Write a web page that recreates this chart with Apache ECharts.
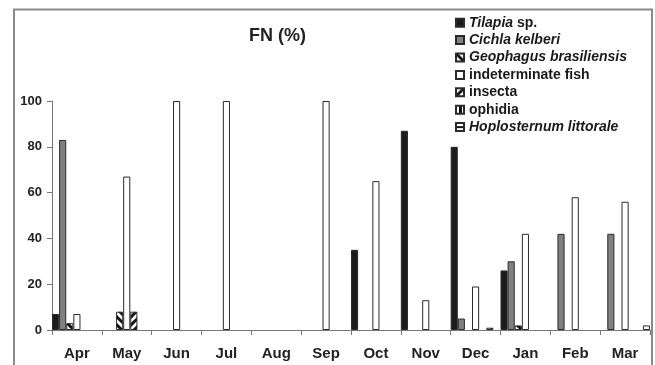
<!DOCTYPE html>
<html>
<head>
<meta charset="utf-8">
<script src="https://cdn.jsdelivr.net/npm/echarts@6/dist/echarts.min.js"></script>
<style>
html,body{margin:0;padding:0;background:#fff;}
#c{width:655px;height:365px;}
</style>
</head>
<body>
<div id="c"></div>
<script>
var months = ['Apr','May','Jun','Jul','Aug','Sep','Oct','Nov','Dec','Jan','Feb','Mar'];
var yTicks = [0,20,40,60,80,100];
var tilapia      = [7, null, null, null, null, null, 35, 87, 80, 26, null, null];
var cichla       = [83, null, null, null, null, null, null, null, 5, 30, 42, 42];
var geophagus    = [3, 8, null, null, null, null, null, null, null, 2, null, null];
var indeterminate= [7, 67, 100, 100, null, 100, 65, 13, 19, 42, 58, 56];
var insecta      = [null, 8, null, null, null, null, null, null, null, null, null, null];
var ophidia      = [null, null, null, null, null, null, null, null, 1, null, null, null];
var hoplosternum = [null, null, null, null, null, null, null, null, null, null, null, 2];
var seriesNames  = ['Tilapia sp.','Cichla kelberi','Geophagus brasiliensis','indeterminate fish','insecta','ophidia','Hoplosternum littorale'];
var legendLabels = ['{i|Tilapia}{n| sp.}','{i|Cichla kelberi}','{i|Geophagus brasiliensis}','{n|indeterminate fish}','{n|insecta}','{n|ophidia}','{i|Hoplosternum littorale}'];

function pattern(kind){
  var s = 8, c = document.createElement('canvas');
  c.width = s; c.height = s;
  var g = c.getContext('2d');
  g.fillStyle = '#fff'; g.fillRect(0,0,s,s);
  g.strokeStyle = '#111'; g.fillStyle = '#111';
  g.lineWidth = 3;
  if (kind === 'back') {
    for (var o=-s;o<=s;o+=s){ g.beginPath(); g.moveTo(o-1,-1); g.lineTo(o+s+1,s+1); g.stroke(); }
  } else if (kind === 'fwd') {
    for (var o=-s;o<=s;o+=s){ g.beginPath(); g.moveTo(o-1,s+1); g.lineTo(o+s+1,-1); g.stroke(); }
  } else if (kind === 'vert') {
    g.fillRect(3,0,3,s);
  } else if (kind === 'horiz') {
    g.fillRect(0,3,s,2);
  }
  return {image: c, repeat: 'repeat'};
}

var colors = ['#1c1c1c','#808080',pattern('back'),'#ffffff',pattern('fwd'),pattern('vert'),pattern('horiz')];
var datas = [tilapia,cichla,geophagus,indeterminate,insecta,ophidia,hoplosternum];

var chart = echarts.init(document.getElementById('c'));
var series = datas.map(function(d,i){
  return {
    name: seriesNames[i],
    type: 'bar',
    data: d,
    barGap: '0%',
    barCategoryGap: '0%',
    itemStyle: {color: colors[i], borderColor: '#2a2a2a', borderWidth: 1},
    emphasis: {disabled: true},
    animation: false
  };
});

var richBase = {
  i: {fontStyle:'italic', fontWeight:'bold', fontSize:14, fontFamily:'Liberation Sans, Arial, sans-serif', color:'#1a1a1a', lineHeight:17.4},
  n: {fontStyle:'normal', fontWeight:'bold', fontSize:14, fontFamily:'Liberation Sans, Arial, sans-serif', color:'#1a1a1a', lineHeight:17.4}
};

chart.setOption({
  backgroundColor: '#fff',
  animation: false,
  title: {
    text: 'FN (%)',
    left: 244, top: 22,
    textStyle: {fontSize: 18, fontWeight: 'bold', color: '#222', fontFamily: 'Liberation Sans, Arial, sans-serif'}
  },
  legend: {
    orient: 'vertical',
    left: 450, top: 9,
    itemWidth: 8, itemHeight: 8,
    itemGap: 0,
    icon: 'rect',
    selectedMode: false,
    data: seriesNames,
    formatter: function(name){ return legendLabels[seriesNames.indexOf(name)]; },
    textStyle: {fontSize: 14, fontWeight: 'bold', lineHeight: 17.4, color:'#1a1a1a', fontFamily: 'Liberation Sans, Arial, sans-serif', rich: richBase}
  },
  grid: {left: 52, right: 5, top: 101, bottom: 35, containLabel: false},
  xAxis: {
    type: 'category',
    data: months,
    axisLine: {lineStyle: {color: '#777', width: 1}},
    axisTick: {show: true, length: 5, alignWithLabel: false, lineStyle: {color: '#777'}},
    axisLabel: {fontSize: 15, fontWeight: 'bold', color: '#222', margin: 16, fontFamily: 'Liberation Sans, Arial, sans-serif', interval: 0},
    splitLine: {show: false}
  },
  yAxis: {
    type: 'value',
    min: yTicks[0], max: yTicks[yTicks.length-1], interval: 20,
    axisLine: {show: true, lineStyle: {color: '#777', width: 1}},
    axisTick: {show: true, length: 5, lineStyle: {color: '#777'}},
    axisLabel: {fontSize: 13, fontWeight: 'bold', color: '#222', margin: 10, fontFamily: 'Liberation Sans, Arial, sans-serif'},
    splitLine: {show: false}
  },
  graphic: [{
    type: 'rect', silent: true,
    shape: {x: 14, y: 9.5, width: 638, height: 400},
    style: {fill: 'none', stroke: '#8a8a8a', lineWidth: 2}
  }],
  series: series
});
</script>
</body>
</html>
